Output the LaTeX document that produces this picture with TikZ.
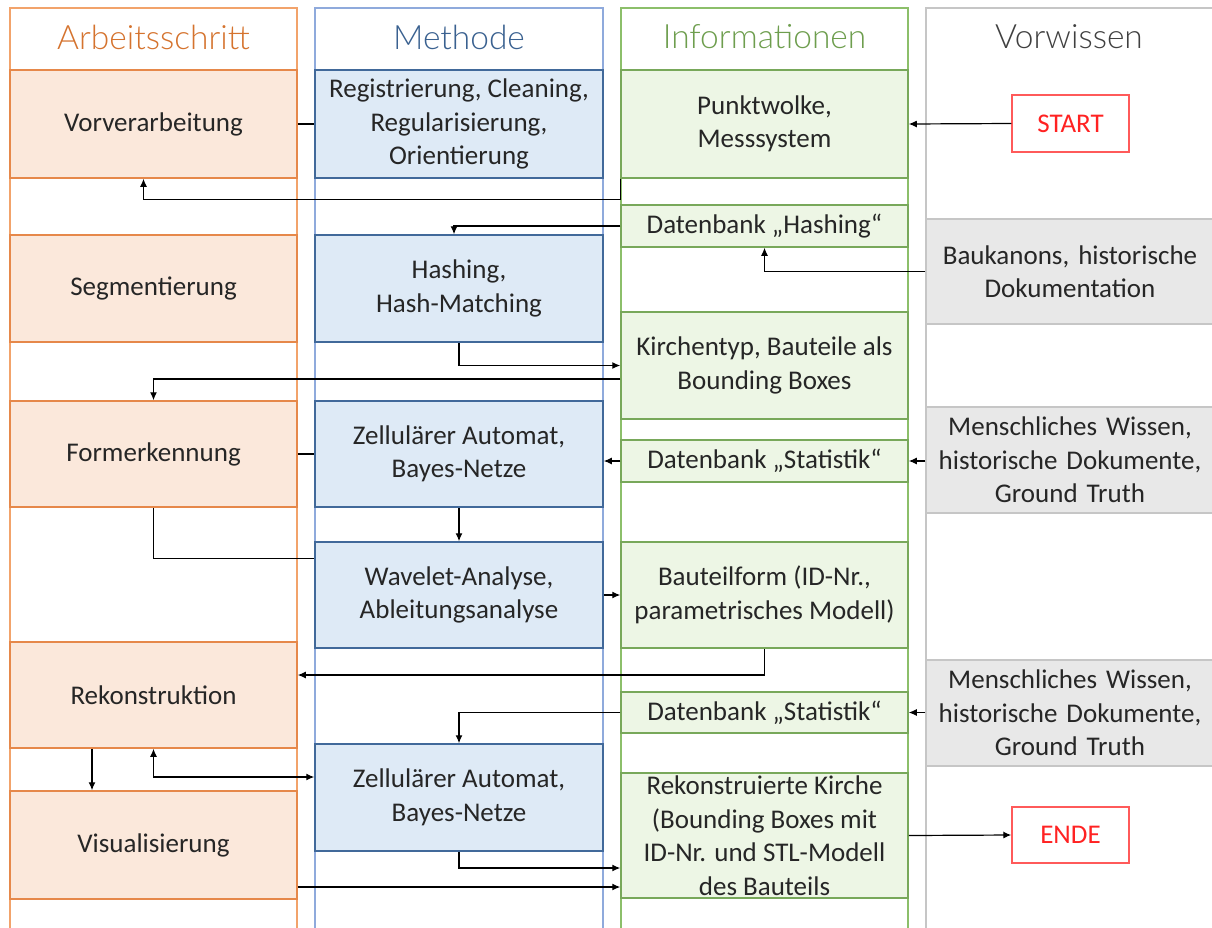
\documentclass[tikz,border=0pt]{standalone}
\usepackage{fontspec}
\setmainfont{Carlito}
\newfontfamily\hdrfam{Lato Light}
\usetikzlibrary{arrows.meta}
\definecolor{orgC}{HTML}{F2A36B}
\definecolor{orgB}{HTML}{E6884A}
\definecolor{orgF}{HTML}{FBE8DB}
\definecolor{orgT}{HTML}{D5732E}
\definecolor{bluC}{HTML}{8FAADC}
\definecolor{bluB}{HTML}{41699A}
\definecolor{bluF}{HTML}{DEEAF6}
\definecolor{bluT}{HTML}{3A6190}
\definecolor{grnC}{HTML}{8CBF6A}
\definecolor{grnB}{HTML}{78A85A}
\definecolor{grnF}{HTML}{EDF6E5}
\definecolor{grnT}{HTML}{6E9E4E}
\definecolor{gryC}{HTML}{C6C6C6}
\definecolor{gryF}{HTML}{E8E8E8}
\definecolor{gryT}{HTML}{404040}
\definecolor{redB}{HTML}{FF5A5A}
\definecolor{redT}{HTML}{FF2222}
\definecolor{txt}{HTML}{262626}
\newcommand{\bodyfont}{\fontsize{27}{33.5}\selectfont}
\newcommand{\hdrfont}{\hdrfam\fontsize{33.5}{40}\selectfont}
\tikzset{
  colframe/.style={line width=1.3pt},
  bx/.style={line width=1.5pt, inner sep=0pt, align=center, text=txt, font=\bodyfont},
  obox/.style={bx, draw=orgB, fill=orgF, minimum width=287pt},
  bbox/.style={bx, draw=bluB, fill=bluF, minimum width=288pt},
  gbox/.style={bx, draw=grnB, fill=grnF, minimum width=287pt},
  ybox/.style={bx, draw=gryC, fill=gryF, minimum width=288pt},
  rbox/.style={bx, draw=redB, fill=white, text=redT, minimum width=117pt, minimum height=57pt},
  hdr/.style={inner sep=0pt, font=\hdrfont},
  conn/.style={line width=1.2pt, draw=black},
  arr/.style={conn, -{Latex[length=8pt,width=7pt]}},
  arrtwo/.style={conn, {Latex[length=8pt,width=7pt]}-{Latex[length=8pt,width=7pt]}}
}
\begin{document}
\begin{tikzpicture}[x=1pt,y=-1pt]
\useasboundingbox (0,0) rectangle (1212,927);
\clip (0,0) rectangle (1212,927);
\fill[white] (0,0) rectangle (1212,927);
% columns
\draw[colframe, draw=orgC] (10,8) rectangle (297,940);
\draw[colframe, draw=bluC] (315,8) rectangle (603,940);
\draw[colframe, draw=grnC] (621,8) rectangle (908,940);
\draw[colframe, draw=gryC] (926,8) rectangle (1216,940);
% headers
\node[hdr, text=orgT] (h1) at (153.5,37) {Arbeitsschritt};
\node[hdr, text=bluT] (h2) at (459,37) {Methode};
\node[hdr, text=grnT] (h3) at (764.5,37) {Informationen};
\node[hdr, text=gryT] (h4) at (1069,37) {Vorwissen};
% column 1
\node[obox, minimum height=108pt] (vv) at (153.5,124) {Vorverarbeitung};
\node[obox, minimum height=107pt] (seg) at (153.5,288.5) {Segmentierung};
\node[obox, minimum height=106pt] (form) at (153.5,454) {Formerkennung};
\node[obox, minimum height=106pt] (rek) at (153.5,695) {Rekonstruktion};
\node[obox, minimum height=108pt] (vis) at (153.5,845) {Visualisierung};
% column 2
\node[bbox, minimum height=108pt] (m1) at (459,124) {Registrierung, Cleaning,\\Regularisierung,\\Orientierung};
\node[bbox, minimum height=107pt] (m2) at (459,288.5) {Hashing,\\Hash-Matching};
\node[bbox, minimum height=106pt] (m3) at (459,454) {Zellulärer Automat,\\Bayes-Netze};
\node[bbox, minimum height=106pt] (m4) at (459,595) {Wavelet-Analyse,\\Ableitungsanalyse};
\node[bbox, minimum height=107pt] (m5) at (459,797.5) {Zellulärer Automat,\\Bayes-Netze};
% column 3
\node[gbox, minimum height=108pt] (i1) at (764.5,124) {Punktwolke,\\Messsystem};
\node[gbox, minimum height=42pt] (i2) at (764.5,226) {Datenbank „Hashing“};
\node[gbox, minimum height=107pt] (i3) at (764.5,365.5) {Kirchentyp, Bauteile als\\Bounding Boxes};
\node[gbox, minimum height=42pt] (i4) at (764.5,461) {Datenbank „Statistik“};
\node[gbox, minimum height=106pt] (i5) at (764.5,595) {Bauteilform (ID-Nr.,\\parametrisches Modell)};
\node[gbox, minimum height=41pt] (i6) at (764.5,712.5) {Datenbank „Statistik“};
\node[gbox, minimum height=125pt] (i7) at (764.5,835.5) {Rekonstruierte Kirche\\(Bounding Boxes mit\\ID-Nr. und STL-Modell\\des Bauteils};
% column 4
\node[rbox] (start) at (1070.5,123.5) {START};
\node[ybox, minimum height=105pt, text width=288pt] (g1) at (1070,271.5) {Baukanons, historische\\Dokumentation};
\node[ybox, minimum height=106pt, text width=288pt] (g2) at (1070,460) {Menschliches Wissen,\\historische Dokumente,\\Ground Truth};
\node[ybox, minimum height=106pt, text width=288pt] (g3) at (1070,713) {Menschliches Wissen,\\historische Dokumente,\\Ground Truth};
\node[rbox, minimum height=56pt] (ende) at (1070.5,835) {ENDE};
% connectors
\draw[conn] (vv.east) -- (m1.west);
\draw[arr] (start.west) -- (i1.east);
\draw[arr] (i1.south west) -- ++(0,21) -| ([xshift=-10pt]vv.south);
\draw[arr] (i2.west) -| ([xshift=-5pt]m2.north);
\draw[arr] (g1.west) -| (i2.south);
\draw[arr] (m2.south) |- (i3.west);
\draw[arr] ([yshift=-13.5pt]i3.west) -| (form.north);
\draw[conn] (form.east) -- (m3.west);
\draw[arr] (i4.west) -- (i4.west -| m3.east);
\draw[arr] (i4.east -| g2.west) -- (i4.east);
\draw[arr] (m3.south) -- (m4.north);
\draw[conn] (form.south) |- ([yshift=-17pt]m4.north west);
\draw[arr] (m4.east) -- (i5.west);
\draw[arr] (i5.south) |- ([yshift=20pt]rek.east);
\draw[arr] (i6.west) -| (m5.north);
\draw[arr] (i6.east -| g3.west) -- (i6.east);
\draw[arr] ([xshift=-61.5pt]rek.south) -- ([xshift=-61.5pt]vis.north);
\draw[arrtwo] (rek.south) |- ([yshift=20.5pt]m5.west);
\draw[arr] (m5.south) |- ([yshift=-32.5pt]i7.west);
\draw[arr] ([yshift=-42pt]vis.east) -- ([yshift=-42pt]vis.east -| i7.west);
\draw[arr] (i7.east) -- (ende.west);
\end{tikzpicture}
\end{document}
